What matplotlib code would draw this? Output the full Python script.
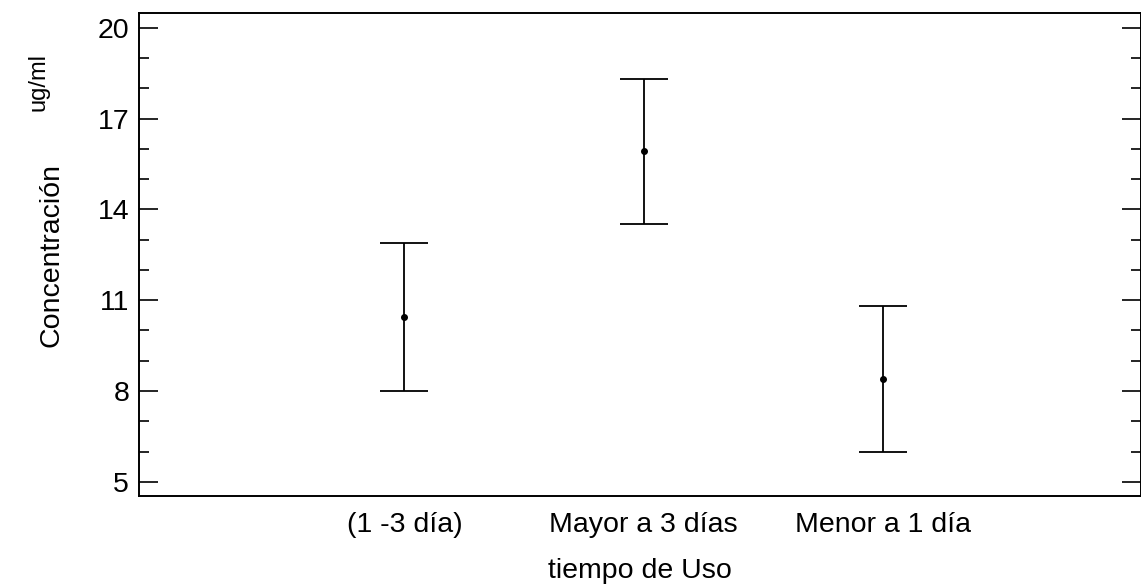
import matplotlib
matplotlib.use('Agg')
import matplotlib.pyplot as plt
from matplotlib.ticker import MultipleLocator
import numpy as np

plt.rcParams['font.family'] = ['Liberation Sans', 'DejaVu Sans']

# medias e intervalos por tiempo de uso
grupos = ['(1 -3 día)', 'Mayor a 3 días', 'Menor a 1 día']
medias = [10.45, 15.92, 8.40]
inferior = [8.00, 13.53, 5.99]
superior = [12.90, 18.31, 10.81]

fig = plt.figure(figsize=(11.41, 5.86), dpi=100)
ax = fig.add_axes([0.1218, 0.154, 0.8782, 0.823])

x = np.arange(len(grupos))
medias = np.array(medias)
err = [medias - np.array(inferior), np.array(superior) - medias]
ax.errorbar(x, medias, yerr=err, fmt='o', ms=4, color='black',
            ecolor='black', elinewidth=1.3, capsize=17.3, capthick=1.3)

ax.set_xlim(-1.11, 3.08)
ax.set_ylim(4.54, 20.47)
ax.set_xticks(x)
ax.set_xticklabels(grupos, fontsize=20.5)
ax.set_yticks([5, 8, 11, 14, 17, 20])
ax.yaxis.set_minor_locator(MultipleLocator(1))
ax.tick_params(axis='x', length=0, pad=12)
ax.tick_params(axis='y', which='major', direction='in', length=13.7, width=1.2,
               labelsize=20.5, left=True, right=True, pad=7)
ax.tick_params(axis='y', which='minor', direction='in', length=7.2, width=1.2,
               left=True, right=True)
for s in ax.spines.values():
    s.set_linewidth(1.4)

ax.set_xlabel('tiempo de Uso', fontsize=20.5, labelpad=14)
fig.text(0.045, 0.565, 'Concentración', rotation=90, fontsize=20.5,
         ha='center', va='center')
fig.text(0.034, 0.86, 'ug/ml', rotation=90, fontsize=17,
         ha='center', va='center')

fig.savefig('out.png', dpi=100)
